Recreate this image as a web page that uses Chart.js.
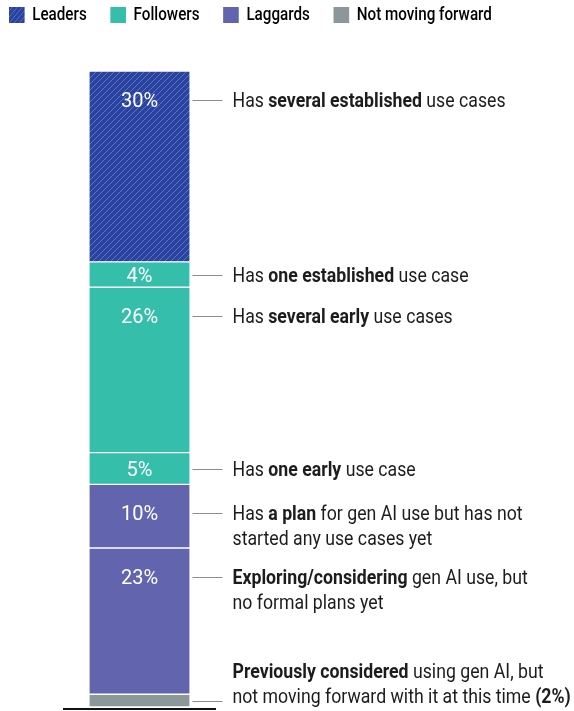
<!DOCTYPE html>
<html>
<head>
<meta charset="utf-8">
<script src="https://cdn.jsdelivr.net/npm/chart.js@4.4.1/dist/chart.umd.min.js"></script>
<style>
  html, body { margin: 0; padding: 0; background: #fff; }
  #wrap { width: 574px; height: 711px; }
</style>
</head>
<body>
<div id="wrap"><canvas id="chart"></canvas></div>
<script>
// Stack segments, listed from the bottom of the bar up
const segmentValues = [2, 23, 10, 5, 26, 4, 30];
const segmentGroups = ['Not moving forward', 'Laggards', 'Laggards', 'Followers', 'Followers', 'Followers', 'Leaders'];
// Notes beside each segment; **text** is bold, {pct} is the segment's value
const segmentNotes = [
  ['**Previously considered** using gen AI, but', 'not moving forward with it at this time **({pct})**'],
  ['**Exploring/considering** gen AI use, but', 'no formal plans yet'],
  ['Has **a plan** for gen AI use but has not', 'started any use cases yet'],
  ['Has **one early** use case'],
  ['Has **several early** use cases'],
  ['Has **one established** use case'],
  ['Has **several established** use cases']
];
const legendGroups = ['Leaders', 'Followers', 'Laggards', 'Not moving forward'];

const FONT = 'Roboto, "Noto Sans", sans-serif';
const INK = '#1c1c1c';
const SQUEEZE = 0.885; // narrows the note text
const LEGEND_SQUEEZE = 0.845;

// diagonal stripes for the Leaders fill
function hatch(base, stripe) {
  const c = document.createElement('canvas');
  c.width = 6; c.height = 6;
  const g = c.getContext('2d');
  g.fillStyle = base;
  g.fillRect(0, 0, 6, 6);
  g.strokeStyle = stripe;
  g.lineWidth = 1;
  g.beginPath();
  g.moveTo(0, 6); g.lineTo(6, 0);
  g.moveTo(-1, 1); g.lineTo(1, -1);
  g.moveTo(5, 7); g.lineTo(7, 5);
  g.stroke();
  return g.createPattern(c, 'repeat');
}

const groupFill = {
  'Leaders': hatch('#2a43a0', '#5d74c4'),
  'Followers': '#35bea9',
  'Laggards': '#6265ae',
  'Not moving forward': '#8b979b'
};

const pct = v => v + '%';

// draws a line of mixed regular/bold runs starting at x
function richLine(ctx, text, x, y, size) {
  ctx.save();
  ctx.translate(x, y);
  ctx.scale(SQUEEZE, 1);
  let cx = 0;
  text.split('**').forEach((part, i) => {
    if (!part) return;
    ctx.font = (i % 2 ? 'bold ' : '') + size + 'px ' + FONT;
    ctx.fillText(part, cx, 0);
    cx += ctx.measureText(part).width;
  });
  ctx.restore();
}

const annotate = {
  id: 'annotate',
  afterDatasetsDraw(chart) {
    const ctx = chart.ctx;
    const area = chart.chartArea;
    ctx.save();
    ctx.textBaseline = 'middle';
    chart.data.datasets.forEach((ds, i) => {
      const bar = chart.getDatasetMeta(i).data[0];
      const v = ds.data[0];
      const top = bar.y, bottom = bar.base;
      const mid = (top + bottom) / 2;
      const right = bar.x + bar.width / 2;
      const notes = segmentNotes[i].map(s => s.replace('{pct}', pct(v)));
      const small = v < 4;

      // value inside the bar
      const y = Math.min(top + 29, mid);
      if (!small) {
        ctx.fillStyle = '#fff';
        ctx.textAlign = 'center';
        ctx.font = '20px ' + FONT;
        ctx.fillText(pct(v), bar.x, y + 2);
      }

      // leader line and note text
      let lineY = y, textY = y;
      if (small) {
        lineY = mid;
        textY = mid - 5 - 25 * (notes.length - 1);
      }
      ctx.strokeStyle = '#8c8c8c';
      ctx.lineWidth = 1;
      ctx.beginPath();
      ctx.moveTo(right + 3, Math.round(lineY) + 0.5);
      ctx.lineTo(right + 33, Math.round(lineY) + 0.5);
      ctx.stroke();

      ctx.fillStyle = INK;
      ctx.textAlign = 'left';
      notes.forEach((line, k) => richLine(ctx, line, right + 43, textY + 2 + k * 25, 20));
    });

    // baseline under the bar
    ctx.strokeStyle = '#111';
    ctx.lineWidth = 2;
    ctx.beginPath();
    ctx.moveTo(area.left, area.bottom + 2);
    ctx.lineTo(area.right, area.bottom + 2);
    ctx.stroke();
    ctx.restore();
  }
};

// legend gets a fixed height and is drawn horizontally narrowed on one row
const legendTweak = {
  id: 'legendTweak',
  beforeInit(chart) {
    const legend = chart.legend;
    const fit = legend.fit;
    legend.fit = function () {
      fit.call(this);
      this.height = 93;
    };
    const draw = legend.draw;
    legend.draw = function () {
      const c = this.ctx;
      const right = this.right;
      this.right = right / LEGEND_SQUEEZE + 50;
      c.save();
      c.translate(-2, 0);
      c.scale(LEGEND_SQUEEZE, 1);
      draw.call(this);
      c.restore();
      this.right = right;
    };
  }
};

new Chart(document.getElementById('chart'), {
  type: 'bar',
  data: {
    labels: ['Share'],
    datasets: segmentValues.map((v, i) => ({
      label: segmentGroups[i],
      data: [v],
      backgroundColor: groupFill[segmentGroups[i]],
      borderColor: '#fff',
      borderWidth: { top: 1, bottom: 1, left: 0, right: 0 },
      borderSkipped: false,
      barThickness: 100
    }))
  },
  options: {
    responsive: true,
    maintainAspectRatio: false,
    animation: false,
    layout: { padding: { top: -22, bottom: 4, left: -15, right: 0 } },
    plugins: {
      tooltip: { enabled: false },
      legend: {
        position: 'top',
        align: 'start',
        onClick: null,
        labels: {
          boxWidth: 18.5,
          boxHeight: 16,
          padding: 28,
          color: INK,
          font: { family: FONT, size: 18, weight: 500 },
          generateLabels: () => legendGroups.map(g => ({
            text: g,
            fillStyle: groupFill[g],
            strokeStyle: groupFill[g],
            lineWidth: 0,
            hidden: false
          }))
        }
      }
    },
    scales: {
      x: { stacked: true, display: false },
      y: {
        stacked: true, min: 0, max: 100, position: 'left',
        ticks: { display: false }, grid: { display: false }, border: { display: false },
        afterFit(s) { s.width = 78; }
      },
      gutter: {
        type: 'linear', position: 'right',
        ticks: { display: false }, grid: { display: false }, border: { display: false },
        afterFit(s) { s.width = 358; }
      }
    }
  },
  plugins: [annotate, legendTweak]
});
</script>
</body>
</html>
